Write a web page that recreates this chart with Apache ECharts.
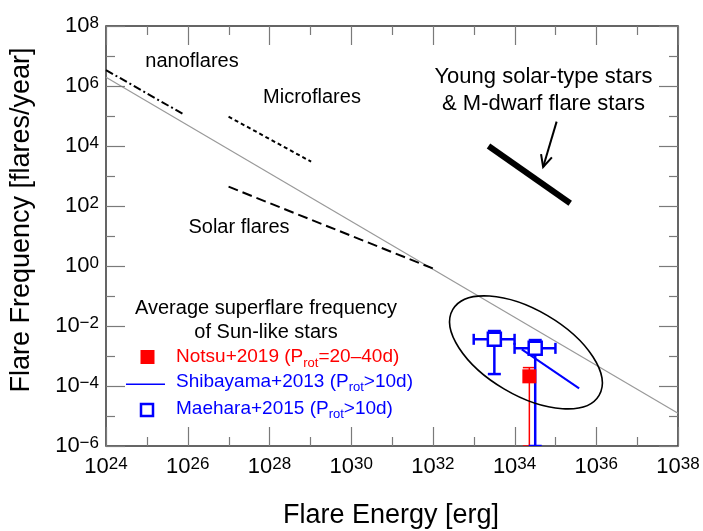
<!DOCTYPE html>
<html><head><meta charset="utf-8">
<script src="https://cdn.jsdelivr.net/npm/echarts@6/dist/echarts.min.js"></script>
<style>html,body{margin:0;padding:0;background:#fff}#c{width:703px;height:531px}</style>
</head><body><div id="c"></div>
<script>
const FONT = '"Liberation Sans", Arial, Helvetica, sans-serif';
// axis ranges and decade ticks (exponents)
const xRange = [1e24, 1e38];
const yRange = [1e-6, 1e8];
const xTickExps = [24, 25, 26, 27, 28, 29, 30, 31, 32, 33, 34, 35, 36, 37, 38];
const yTickExps = [-6, -5, -4, -3, -2, -1, 0, 1, 2, 3, 4, 5, 6, 7, 8];
// gray power-law reference line
const fitE = [1e24, 1e38];
const fitN = [1.95e6, 1.23e-5];
// nanoflares (dash-dot)
const nanoE = [1e24, 7.8e25];
const nanoN = [3.4e6, 1.15e5];
// microflares (dotted)
const microE = [1e27, 1.05e29];
const microN = [9.5e4, 3.0e3];
// solar flares (dashed)
const solarE = [1e27, 1.0e32];
const solarN = [440, 0.83];
// young solar-type stars & M-dwarfs (thick)
const youngE = [2.3e33, 2.3e35];
const youngN = [1.0e4, 1.23e2];
// arrow (start, tip)
const arrowE = [1.07e35, 5.0e34];
const arrowN = [6.5e4, 2.0e3];
// Shibayama+2013
const shibaE = [1.5e34, 3.8e35];
const shibaN = [1.66e-3, 8.3e-5];
// Maehara+2015
const maeharaE = [3.2e33, 3.2e34];
const maeharaN = [3.6e-3, 1.8e-3];
const maeharaElo = [1e33, 1e34];
const maeharaEhi = [1e34, 1e35];
const maeharaNlo = [2.5e-4, 1e-6];
const maeharaNhi = [6.8e-3, 3.4e-3];
// Notsu+2019
const notsuE = [2.3e34];
const notsuN = [2.1e-4];
const notsuNlo = [1e-6];
const notsuNhi = [4.1e-4];
// superflare ellipse (center in data units)
const ellipseCenter = [1.9e34, 1.32e-3];

const RED = '#ff0000', BLUE = '#0000ff';
const zip = (a, b) => a.map((v, i) => [v, b[i]]);

function labelFmt(v) {
  const e = Math.round(Math.log10(v));
  return '{b|10}{s|' + (e < 0 ? '\u2212' + (-e) : e) + '}';
}
const labelRich = {
  b: {fontSize: 22, fontFamily: FONT, color: '#000', lineHeight: 22, verticalAlign: 'bottom'},
  s: {fontSize: 17, fontFamily: FONT, color: '#000', lineHeight: 17, verticalAlign: 'top', padding: [0, 0, 13, 0]}
};
function mkAxis(pos) {
  const isX = pos === 'bottom';
  return {
    type: 'log', logBase: 10, position: pos,
    min: isX ? xRange[0] : yRange[0], max: isX ? xRange[1] : yRange[1],
    interval: 2,
    axisLine: {show: false},
    axisTick: {show: false},
    axisLabel: {show: true, formatter: labelFmt, rich: labelRich, margin: isX ? 10 : 7},
    splitLine: {show: false}, minorTick: {show: false}
  };
}
function errRender(color, lw, capV, capH, withX) {
  return function (params, api) {
    const x = api.value(0), y = api.value(1);
    const c = api.coord([x, y]);
    const lo = api.coord([x, api.value(2)]);
    const hi = api.coord([x, api.value(3)]);
    const st = {stroke: color, lineWidth: lw};
    const ch = [
      {type: 'line', shape: {x1: c[0], y1: lo[1], x2: c[0], y2: hi[1]}, style: st},
      {type: 'line', shape: {x1: c[0] - capV, y1: lo[1], x2: c[0] + capV, y2: lo[1]}, style: st},
      {type: 'line', shape: {x1: c[0] - capV, y1: hi[1], x2: c[0] + capV, y2: hi[1]}, style: st}
    ];
    if (withX) {
      const l = api.coord([api.value(4), y]), r = api.coord([api.value(5), y]);
      ch.push({type: 'line', shape: {x1: l[0], y1: c[1], x2: r[0], y2: c[1]}, style: st});
      ch.push({type: 'line', shape: {x1: l[0], y1: c[1] - capH, x2: l[0], y2: c[1] + capH}, style: st});
      ch.push({type: 'line', shape: {x1: r[0], y1: c[1] - capH, x2: r[0], y2: c[1] + capH}, style: st});
    }
    return {type: 'group', children: ch};
  };
}
const lineS = (E, N, style, z) => ({
  type: 'line', data: zip(E, N), symbol: 'none', silent: true, animation: false,
  lineStyle: style, z: z || 2
});

const GRID = {left: 106, right: 25, top: 26, bottom: 85};
const W = 703, H = 531;
const chart = echarts.init(document.getElementById('c'));
chart.setOption({
  animation: false,
  grid: Object.assign({show: true, borderColor: '#333', borderWidth: 1.5, backgroundColor: 'transparent'}, GRID),
  xAxis: [mkAxis('bottom')],
  yAxis: [mkAxis('left')],
  series: [
    lineS(fitE, fitN, {color: '#999', width: 1.2}, 1),
    lineS(nanoE, nanoN, {color: '#000', width: 2, type: [8, 3, 2, 3]}),
    lineS(microE, microN, {color: '#000', width: 2, type: [4, 3]}),
    lineS(solarE, solarN, {color: '#000', width: 2, type: [10, 5]}),
    lineS(youngE, youngN, {color: '#000', width: 6, cap: 'butt'}),
    lineS(arrowE, arrowN, {color: '#000', width: 2}),
    {
      type: 'custom', clip: true, silent: true, z: 3,
      renderItem: errRender(RED, 1.5, 6.5, 0, false),
      data: notsuE.map((e, i) => [e, notsuN[i], notsuNlo[i], notsuNhi[i]])
    },
    {
      type: 'custom', clip: true, silent: true, z: 3,
      renderItem: errRender(BLUE, 2.5, 6.5, 5.5, true),
      data: maeharaE.map((e, i) => [e, maeharaN[i], maeharaNlo[i], maeharaNhi[i], maeharaElo[i], maeharaEhi[i]])
    },
    lineS(shibaE, shibaN, {color: BLUE, width: 2}, 4),
    {
      type: 'scatter', silent: true, z: 5, symbol: 'rect', symbolSize: 14,
      itemStyle: {color: RED, opacity: 1}, data: zip(notsuE, notsuN)
    },
    {
      type: 'scatter', silent: true, z: 5, symbol: 'rect', symbolSize: 13,
      itemStyle: {color: '#fff', borderColor: BLUE, borderWidth: 2.5, opacity: 1}, data: zip(maeharaE, maeharaN)
    }
  ]
});

function txt(text, x, y, size, opts) {
  return Object.assign({
    type: 'text', x: x, y: y, silent: true, z: 10,
    style: {text: text, fontSize: size, fontFamily: FONT, fill: '#000', align: 'center', verticalAlign: 'middle'}
  }, opts || {});
}
const subRich = (color) => ({
  t: {fontSize: 19, fontFamily: FONT, color: color, lineHeight: 22, verticalAlign: 'top'},
  u: {fontSize: 13, fontFamily: FONT, color: color, lineHeight: 13, verticalAlign: 'bottom', padding: [12, 0, 0, 0]}
});
function legText(str, x, y, color) {
  return {
    type: 'text', x: x, y: y, silent: true, z: 10,
    style: {text: str, fill: color, align: 'left', verticalAlign: 'middle', rich: subRich(color)}
  };
}

const P = (p) => chart.convertToPixel({xAxisIndex: 0, yAxisIndex: 0}, p);
const g = [];
// decade ticks on all four sides (major = labelled decades)
const gl = GRID.left, gr = W - GRID.right, gt = GRID.top, gb = H - GRID.bottom;
const tickStyle = {stroke: '#7a7a7a', lineWidth: 1.2};
const xTickPos = xTickExps.map(e => P([Math.pow(10, e), 10])[0]);
const yTickPos = yTickExps.map(e => P([1e30, Math.pow(10, e)])[1]);
xTickExps.forEach((e, i) => {
  const x = Math.round(xTickPos[i]) + 0.5;
  const len = e % 2 === 0 ? 19 : 9;
  g.push({type: 'line', silent: true, z: 100, shape: {x1: x, y1: gb, x2: x, y2: gb - len}, style: tickStyle});
  g.push({type: 'line', silent: true, z: 100, shape: {x1: x, y1: gt, x2: x, y2: gt + len}, style: tickStyle});
});
yTickExps.forEach((e, i) => {
  const y = Math.round(yTickPos[i]) + 0.5;
  const len = e % 2 === 0 ? 19 : 9;
  g.push({type: 'line', silent: true, z: 100, shape: {x1: gl, y1: y, x2: gl + len, y2: y}, style: tickStyle});
  g.push({type: 'line', silent: true, z: 100, shape: {x1: gr, y1: y, x2: gr - len, y2: y}, style: tickStyle});
});
// axis titles
g.push(txt('Flare Energy [erg]', 391, 516, 27));
g.push(txt('Flare Frequency [flares/year]', 22, 220, 27, {rotation: Math.PI / 2}));
// annotations
g.push(txt('nanoflares', 192, 61.5, 20));
g.push(txt('Microflares', 312, 97, 20));
g.push(txt('Solar flares', 239, 227, 20));
g.push(txt('Young solar-type stars', 543.5, 76.5, 22));
g.push(txt('& M-dwarf flare stars', 543.5, 104, 22));
// legend block
g.push(txt('Average superflare frequency', 266, 308, 20));
g.push(txt('of Sun-like stars', 266, 332, 20));
g.push({type: 'rect', silent: true, z: 10, shape: {x: 140.5, y: 350, width: 14, height: 14}, style: {fill: RED}});
g.push(legText('{t|Notsu+2019 (P}{u|rot}{t|=20\u201340d)}', 176, 358.5, RED));
g.push({type: 'line', silent: true, z: 10, shape: {x1: 126, y1: 384.3, x2: 165, y2: 384.3}, style: {stroke: BLUE, lineWidth: 1.5}});
g.push(legText('{t|Shibayama+2013 (P}{u|rot}{t|>10d)}', 176, 383, BLUE));
g.push({type: 'rect', silent: true, z: 10, shape: {x: 141, y: 404, width: 12, height: 12}, style: {fill: '#fff', stroke: BLUE, lineWidth: 2.5}});
g.push(legText('{t|Maehara+2015 (P}{u|rot}{t|>10d)}', 176, 410, BLUE));
// ellipse
const ec = P(ellipseCenter);
g.push({type: 'ellipse', silent: true, z: 6, x: ec[0], y: ec[1], rotation: -0.531,
  shape: {cx: 0, cy: 0, rx: 84.8, ry: 42.6}, style: {fill: 'none', stroke: '#000', lineWidth: 1.6}});
// arrow head
const a1 = P([arrowE[0], arrowN[0]]), a2 = P([arrowE[1], arrowN[1]]);
const dx = a2[0] - a1[0], dy = a2[1] - a1[1], dl = Math.hypot(dx, dy);
const ux = dx / dl, uy = dy / dl, L = 13, ang = 0.45;
const rot = (x, y, t) => [x * Math.cos(t) - y * Math.sin(t), x * Math.sin(t) + y * Math.cos(t)];
const h1 = rot(-ux, -uy, ang), h2 = rot(-ux, -uy, -ang);
g.push({type: 'polyline', silent: true, z: 6,
  shape: {points: [[a2[0] + L * h1[0], a2[1] + L * h1[1]], a2, [a2[0] + L * h2[0], a2[1] + L * h2[1]]]},
  style: {fill: 'none', stroke: '#000', lineWidth: 2}});
chart.setOption({graphic: g});
</script></body></html>
